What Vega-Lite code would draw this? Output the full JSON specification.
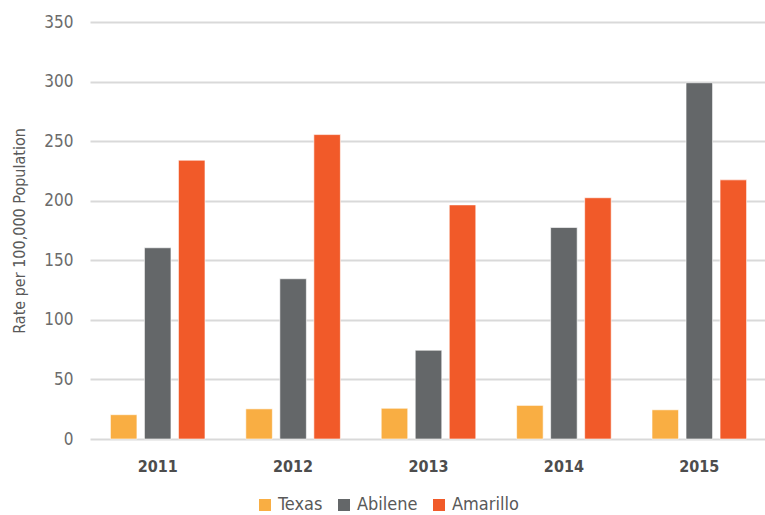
{
  "$schema": "https://vega.github.io/schema/vega-lite/v6.json",
  "autosize": "none",
  "width": 677,
  "height": 417,
  "padding": {"left": 88, "top": 22, "right": 0, "bottom": 76},
  "background": "white",
  "config": {
    "view": {"stroke": null},
    "font": "DejaVu Sans Condensed, DejaVu Sans, sans-serif"
  },
  "data": {
    "values": [
      {"year": "2011", "region": "Texas", "rate": 20.4},
      {"year": "2011", "region": "Abilene", "rate": 160.5},
      {"year": "2011", "region": "Amarillo", "rate": 234},
      {"year": "2012", "region": "Texas", "rate": 25.3},
      {"year": "2012", "region": "Abilene", "rate": 134.5},
      {"year": "2012", "region": "Amarillo", "rate": 255.5},
      {"year": "2013", "region": "Texas", "rate": 25.8},
      {"year": "2013", "region": "Abilene", "rate": 74.5},
      {"year": "2013", "region": "Amarillo", "rate": 196.5},
      {"year": "2014", "region": "Texas", "rate": 28.2},
      {"year": "2014", "region": "Abilene", "rate": 177.5},
      {"year": "2014", "region": "Amarillo", "rate": 202.5},
      {"year": "2015", "region": "Texas", "rate": 24.5},
      {"year": "2015", "region": "Abilene", "rate": 299},
      {"year": "2015", "region": "Amarillo", "rate": 217.5}
    ]
  },
  "mark": {"type": "bar", "stroke": "white", "strokeOpacity": 0.6, "strokeWidth": 1},
  "encoding": {
    "x": {
      "field": "year",
      "type": "nominal",
      "scale": {"paddingInner": 0, "paddingOuter": 0, "range": [2, 679]},
      "axis": {
        "title": null,
        "labelAngle": 0,
        "ticks": false,
        "domain": false,
        "labelFontSize": 16,
        "labelFontWeight": "bold",
        "labelColor": "#4d4d4d",
        "labelPadding": 19
      }
    },
    "xOffset": {
      "field": "region",
      "type": "nominal",
      "sort": ["Texas", "Abilene", "Amarillo"],
      "scale": {"paddingInner": 0.22, "paddingOuter": 0.6}
    },
    "y": {
      "field": "rate",
      "type": "quantitative",
      "scale": {"domain": [0, 350], "nice": false},
      "axis": {
        "title": "Rate per 100,000 Population",
        "titleFontSize": 16,
        "titleFontWeight": "normal",
        "titleColor": "#595959",
        "titleX": -61,
        "values": [0, 50, 100, 150, 200, 250, 300, 350],
        "ticks": false,
        "domain": false,
        "gridColor": "#d9d9d9",
        "gridWidth": 2,
        "labelFontSize": 17,
        "labelColor": "#6b6b6b",
        "labelPadding": 15
      }
    },
    "color": {
      "field": "region",
      "type": "nominal",
      "sort": ["Texas", "Abilene", "Amarillo"],
      "scale": {
        "domain": ["Texas", "Abilene", "Amarillo"],
        "range": ["#F9AE43", "#646769", "#F15A29"]
      },
      "legend": {
        "title": null,
        "orient": "none",
        "direction": "horizontal",
        "legendX": 168,
        "legendY": 474,
        "symbolType": "square",
        "symbolSize": 144,
        "symbolStrokeWidth": 0,
        "symbolOpacity": 1,
        "labelFontSize": 18,
        "labelColor": "#595959",
        "labelOffset": 4,
        "columnPadding": 12
      }
    }
  }
}
